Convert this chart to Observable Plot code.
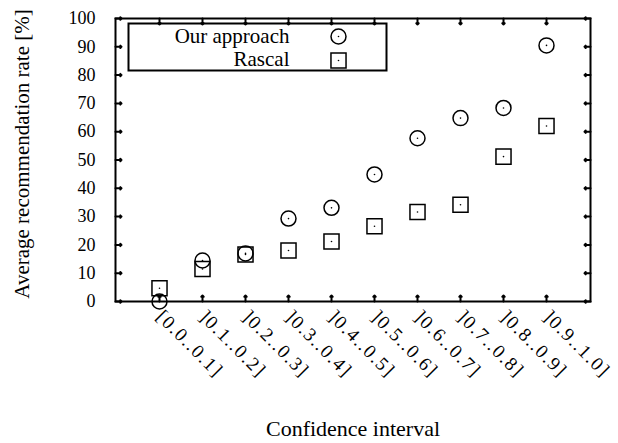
<!DOCTYPE html>
<html>
<head>
<meta charset="utf-8">
<script src="https://cdn.jsdelivr.net/npm/d3@7"></script>
<script src="https://cdn.jsdelivr.net/npm/@observablehq/plot@0.6"></script>
<style>
  body { margin: 0; background: #fff; }
  svg { font-family: "Liberation Serif", "DejaVu Serif", serif; }
  g[aria-label="x-axis tick label"] text { letter-spacing: 1.6px; }
</style>
</head>
<body>
<div id="chart"></div>
<script>
const categories = ["[0.0..0.1]", "]0.1..0.2]", "]0.2..0.3]", "]0.3..0.4]", "]0.4..0.5]",
                    "]0.5..0.6]", "]0.6..0.7]", "]0.7..0.8]", "]0.8..0.9]", "]0.9..1.0]"];
const ourApproach = [0, 14.5, 17, 29.3, 33.1, 44.9, 57.7, 64.8, 68.4, 90.5];
const rascal = [4.7, 11.5, 16.6, 18, 21.2, 26.6, 31.6, 34.2, 51.2, 62];
const seriesNames = ["Our approach", "Rascal"];
const yTicks = [0, 10, 20, 30, 40, 50, 60, 70, 80, 90, 100];
const xLabel = "Confidence interval";
const yLabel = "Average recommendation rate [%]";

const ours = categories.map((c, i) => ({c, v: ourApproach[i]}));
const ras = categories.map((c, i) => ({c, v: rascal[i]}));

const chart = Plot.plot({
  width: 618,
  height: 443,
  marginLeft: 115,
  marginRight: 28,
  marginTop: 18,
  marginBottom: 142,
  style: {fontFamily: "Liberation Serif, serif", background: "#fff"},
  x: {type: "point", domain: categories, padding: 1},
  y: {domain: [0, 100]},
  marks: [
    Plot.axisY(yTicks, {tickSize: 0, tickPadding: 20, fontSize: 18, label: null, fill: "#000"}),
    Plot.axisX(categories, {tickSize: 0, tickRotate: 45, tickPadding: 12, fontSize: 19, label: null, fill: "#000"}),
    // inward ticks
    Plot.vector(yTicks, {y: d => d, frameAnchor: "left", rotate: 90, length: 6, anchor: "start", strokeWidth: 2, stroke: "#000"}),
    Plot.vector(yTicks, {y: d => d, frameAnchor: "right", rotate: -90, length: 6, anchor: "start", strokeWidth: 2, stroke: "#000"}),
    Plot.vector(categories, {x: d => d, frameAnchor: "bottom", rotate: 0, length: 6, anchor: "start", strokeWidth: 2, stroke: "#000"}),
    Plot.vector(categories, {x: d => d, frameAnchor: "top", rotate: 180, length: 6, anchor: "start", strokeWidth: 2, stroke: "#000"}),
    Plot.frame({stroke: "#000", strokeWidth: 2}),
    // axis titles
    Plot.text([xLabel], {frameAnchor: "bottom", dy: 127, lineAnchor: "middle", fontSize: 22, fill: "#000"}),
    Plot.text([yLabel], {frameAnchor: "left", rotate: -90, dx: -93, dy: -6, textAnchor: "middle", lineAnchor: "middle", fontSize: 21, fill: "#000"}),
    // data
    Plot.dot(ours, {x: "c", y: "v", r: 7.5, stroke: "#000", strokeWidth: 1.5, fill: "none"}),
    Plot.dot(ours, {x: "c", y: "v", r: 0.8, fill: "#000", stroke: "none"}),
    Plot.dot(ras, {x: "c", y: "v", r: 8.5, symbol: "square", stroke: "#000", strokeWidth: 1.5, fill: "none"}),
    Plot.dot(ras, {x: "c", y: "v", r: 0.8, fill: "#000", stroke: "none"}),
    // legend
    Plot.frame({stroke: "#000", strokeWidth: 2, insetLeft: 13, insetTop: 5, insetRight: 204, insetBottom: 231}),
    Plot.text([seriesNames[0]], {frameAnchor: "top-left", dx: 174, dy: 18, textAnchor: "end", lineAnchor: "middle", fontSize: 21, fill: "#000"}),
    Plot.text([seriesNames[1]], {frameAnchor: "top-left", dx: 174, dy: 41, textAnchor: "end", lineAnchor: "middle", fontSize: 21, fill: "#000"}),
    Plot.dot([0], {frameAnchor: "top-left", dx: 223, dy: 18, r: 7.5, stroke: "#000", strokeWidth: 1.5, fill: "none"}),
    Plot.dot([0], {frameAnchor: "top-left", dx: 223, dy: 18, r: 0.8, fill: "#000", stroke: "none"}),
    Plot.dot([0], {frameAnchor: "top-left", dx: 223, dy: 42, r: 8.5, symbol: "square", stroke: "#000", strokeWidth: 1.5, fill: "none"}),
    Plot.dot([0], {frameAnchor: "top-left", dx: 223, dy: 42, r: 0.8, fill: "#000", stroke: "none"})
  ]
});
document.getElementById("chart").appendChild(chart);
</script>
</body>
</html>
